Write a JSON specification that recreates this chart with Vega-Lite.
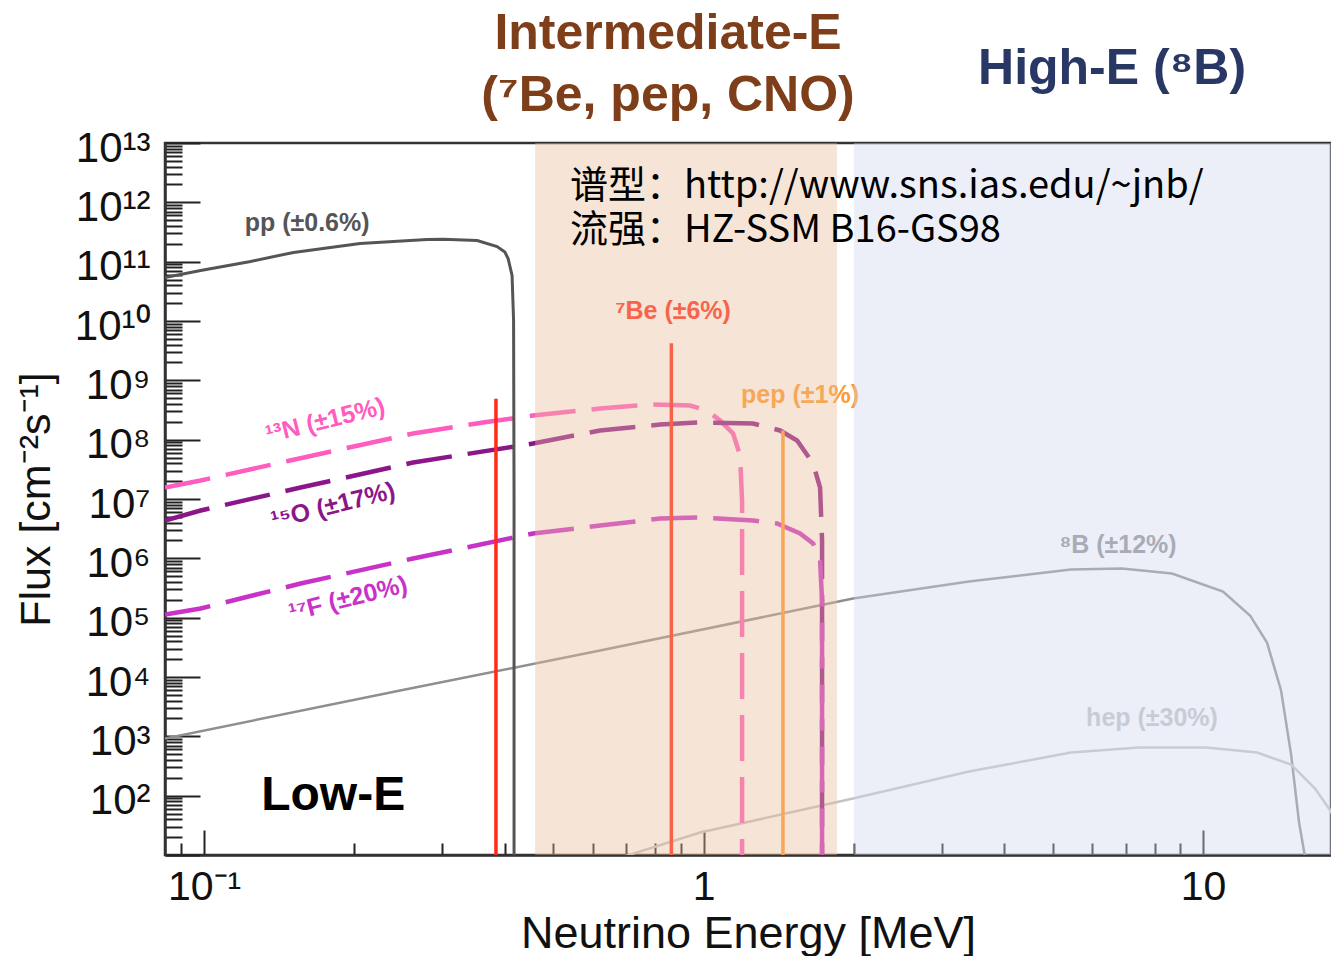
{
  "$schema": "https://vega.github.io/schema/vega-lite/v6.json",
  "width": 1166,
  "height": 712,
  "autosize": "none",
  "padding": {"left": 165, "top": 143, "right": 0, "bottom": 101},
  "background": "white",
  "config": {
    "view": {"stroke": "#333333", "strokeWidth": 2.5},
    "font": "Liberation Sans"
  },
  "datasets": {
    "spectra": [
      {"src": "pp", "i": 0, "E": 0.0835, "F": 5.41e10},
      {"src": "pp", "i": 1, "E": 0.0984, "F": 7.1e10},
      {"src": "pp", "i": 2, "E": 0.1239, "F": 1.01e11},
      {"src": "pp", "i": 3, "E": 0.151, "F": 1.43e11},
      {"src": "pp", "i": 4, "E": 0.2052, "F": 2.02e11},
      {"src": "pp", "i": 5, "E": 0.2795, "F": 2.36e11},
      {"src": "pp", "i": 6, "E": 0.301, "F": 2.39e11},
      {"src": "pp", "i": 7, "E": 0.3521, "F": 2.27e11},
      {"src": "pp", "i": 8, "E": 0.386, "F": 1.8e11},
      {"src": "pp", "i": 9, "E": 0.4001, "F": 1.45e11},
      {"src": "pp", "i": 10, "E": 0.4061, "F": 1.13e11},
      {"src": "pp", "i": 11, "E": 0.4136, "F": 5.85e10},
      {"src": "pp", "i": 12, "E": 0.4165, "F": 1.02e10},
      {"src": "pp", "i": 13, "E": 0.4174, "F": 9.4e6},
      {"src": "pp", "i": 14, "E": 0.4174, "F": 1},

      {"src": "13N", "i": 0, "E": 0.0835, "F": 1.56e7},
      {"src": "13N", "i": 1, "E": 0.0984, "F": 2.05e7},
      {"src": "13N", "i": 2, "E": 0.1487, "F": 4.46e7},
      {"src": "13N", "i": 3, "E": 0.2621, "F": 1.27e8},
      {"src": "13N", "i": 4, "E": 0.3619, "F": 1.95e8},
      {"src": "13N", "i": 5, "E": 0.4557, "F": 2.55e8},
      {"src": "13N", "i": 6, "E": 0.6206, "F": 3.35e8},
      {"src": "13N", "i": 7, "E": 0.7813, "F": 3.92e8},
      {"src": "13N", "i": 8, "E": 0.9397, "F": 3.77e8},
      {"src": "13N", "i": 9, "E": 1.0162, "F": 3.1e8},
      {"src": "13N", "i": 10, "E": 1.079, "F": 2.1e8},
      {"src": "13N", "i": 11, "E": 1.1458, "F": 1.27e8},
      {"src": "13N", "i": 12, "E": 1.1833, "F": 5.41e7},
      {"src": "13N", "i": 13, "E": 1.1942, "F": 9.44e6},
      {"src": "13N", "i": 14, "E": 1.1942, "F": 1},

      {"src": "15O", "i": 0, "E": 0.0835, "F": 4.34e6},
      {"src": "15O", "i": 1, "E": 0.0984, "F": 6.39e6},
      {"src": "15O", "i": 2, "E": 0.156, "F": 1.56e7},
      {"src": "15O", "i": 3, "E": 0.2621, "F": 4.12e7},
      {"src": "15O", "i": 4, "E": 0.4557, "F": 8.61e7},
      {"src": "15O", "i": 5, "E": 0.6206, "F": 1.43e8},
      {"src": "15O", "i": 6, "E": 0.8183, "F": 1.8e8},
      {"src": "15O", "i": 7, "E": 0.984, "F": 1.95e8},
      {"src": "15O", "i": 8, "E": 1.2563, "F": 1.87e8},
      {"src": "15O", "i": 9, "E": 1.4226, "F": 1.43e8},
      {"src": "15O", "i": 10, "E": 1.539, "F": 9.68e7},
      {"src": "15O", "i": 11, "E": 1.6568, "F": 3.96e7},
      {"src": "15O", "i": 12, "E": 1.711, "F": 1.56e7},
      {"src": "15O", "i": 13, "E": 1.7268, "F": 2.0e6},
      {"src": "15O", "i": 14, "E": 1.7268, "F": 1},

      {"src": "17F", "i": 0, "E": 0.0835, "F": 1.13e5},
      {"src": "17F", "i": 1, "E": 0.0984, "F": 1.43e5},
      {"src": "17F", "i": 2, "E": 0.156, "F": 3.76e5},
      {"src": "17F", "i": 3, "E": 0.2621, "F": 9.93e5},
      {"src": "17F", "i": 4, "E": 0.4557, "F": 2.62e6},
      {"src": "17F", "i": 5, "E": 0.6206, "F": 3.57e6},
      {"src": "17F", "i": 6, "E": 0.8183, "F": 4.69e6},
      {"src": "17F", "i": 7, "E": 0.984, "F": 4.88e6},
      {"src": "17F", "i": 8, "E": 1.2563, "F": 4.34e6},
      {"src": "17F", "i": 9, "E": 1.4028, "F": 3.86e6},
      {"src": "17F", "i": 10, "E": 1.5604, "F": 2.62e6},
      {"src": "17F", "i": 11, "E": 1.6568, "F": 1.78e6},
      {"src": "17F", "i": 12, "E": 1.711, "F": 9.19e5},
      {"src": "17F", "i": 13, "E": 1.7268, "F": 1.95e5},
      {"src": "17F", "i": 14, "E": 1.7268, "F": 1},

      {"src": "8B", "i": 0, "E": 0.0835, "F": 919},
      {"src": "8B", "i": 1, "E": 0.2469, "F": 5920},
      {"src": "8B", "i": 2, "E": 0.6206, "F": 27900},
      {"src": "8B", "i": 3, "E": 1.9922, "F": 2.1e5},
      {"src": "8B", "i": 4, "E": 3.4, "F": 4.06e5},
      {"src": "8B", "i": 5, "E": 5.44, "F": 6.47e5},
      {"src": "8B", "i": 6, "E": 6.884, "F": 6.73e5},
      {"src": "8B", "i": 7, "E": 8.667, "F": 5.55e5},
      {"src": "8B", "i": 8, "E": 10.965, "F": 2.75e5},
      {"src": "8B", "i": 9, "E": 12.42, "F": 1.09e5},
      {"src": "8B", "i": 10, "E": 13.43, "F": 38100},
      {"src": "8B", "i": 11, "E": 14.33, "F": 5920},
      {"src": "8B", "i": 12, "E": 15.01, "F": 493},
      {"src": "8B", "i": 13, "E": 15.57, "F": 35.2},
      {"src": "8B", "i": 14, "E": 16.0, "F": 9.4},
      {"src": "8B", "i": 15, "E": 16.2, "F": 1},

      {"src": "hep", "i": 0, "E": 0.566, "F": 5.5},
      {"src": "hep", "i": 1, "E": 0.984, "F": 23.9},
      {"src": "hep", "i": 2, "E": 1.9922, "F": 89.3},
      {"src": "hep", "i": 3, "E": 3.4, "F": 255},
      {"src": "hep", "i": 4, "E": 5.44, "F": 532},
      {"src": "hep", "i": 5, "E": 7.446, "F": 646},
      {"src": "hep", "i": 6, "E": 10.14, "F": 646},
      {"src": "hep", "i": 7, "E": 12.83, "F": 532},
      {"src": "hep", "i": 8, "E": 15.01, "F": 334},
      {"src": "hep", "i": 9, "E": 16.76, "F": 132},
      {"src": "hep", "i": 10, "E": 18.04, "F": 54},
      {"src": "hep", "i": 11, "E": 19.25, "F": 17.5}
    ],
    "mono": [
      {"src": "7Be", "E": 0.384, "F": 4.9e8},
      {"src": "7Be", "E": 0.862, "F": 4.2e9},
      {"src": "pep", "E": 1.442, "F": 1.43e8}
    ],
    "labels": [
      {"src": "pp", "text": "pp (±0.6%)", "E": 0.1608, "F": 4.57e11},
      {"src": "7Be", "text": "⁷Be (±6%)", "E": 0.8688, "F": 1.49e10},
      {"src": "pep", "text": "pep (±1%)", "E": 1.56, "F": 5.77e8},
      {"src": "8B", "text": "⁸B (±12%)", "E": 6.758, "F": 1.71e6},
      {"src": "hep", "text": "hep (±30%)", "E": 7.905, "F": 2070},
      {"src": "13N", "text": "¹³N (±15%)", "E": 0.1748, "F": 2.1e8},
      {"src": "15O", "text": "¹⁵O (±17%)", "E": 0.1813, "F": 7.76e6},
      {"src": "17F", "text": "¹⁷F (±20%)", "E": 0.1942, "F": 2.1e5}
    ],
    "bands": [
      {"region": "intermediate", "E0": 0.46, "E1": 1.85},
      {"region": "high", "E0": 2.0, "E1": 20}
    ],
    "notes": [
      {"kind": "low", "text": "Low-E", "E": 0.1813, "F": 100},
      {"kind": "source", "text": "谱型：http://www.sns.ias.edu/~jnb/\n流强：HZ-SSM B16-GS98", "E": 0.54, "F": 1.78e12},
      {"kind": "mid", "text": "Intermediate-E", "E": 0.849, "F": 7.0e14},
      {"kind": "mid", "text": "(⁷Be, pep, CNO)", "E": 0.849, "F": 6.3e13},
      {"kind": "high", "text": "High-E (⁸B)", "E": 6.574, "F": 1.8e14}
    ]
  },
  "layer": [
    {
      "data": {"name": "spectra"},
      "transform": [{"filter": "datum.src === '8B' || datum.src === 'hep'"}],
      "mark": {"type": "line", "strokeWidth": 2.5, "clip": true},
      "encoding": {
        "x": {
          "field": "E", "type": "quantitative",
          "scale": {"type": "log", "domain": [0.0835, 18.04], "nice": false},
          "axis": {
            "title": "Neutrino Energy [MeV]",
            "titleFont": "Liberation Sans", "titleFontSize": 45, "titleFontWeight": "normal",
            "titleColor": "#111111", "titlePadding": -9,
            "grid": false,
            "tickCount": 40,
            "labelExpr": "abs(datum.value - 0.1) < 1e-9 ? '10⁻¹' : abs(datum.value - 1) < 1e-9 ? '1' : abs(datum.value - 10) < 1e-9 ? '10' : ''",
            "labelFont": "Liberation Sans", "labelFontSize": 41, "labelColor": "#111111",
            "labelOverlap": false, "labelFlush": false, "labelPadding": 37,
            "tickSize": {"condition": {"test": "abs(log(datum.value)/LN10 - round(log(datum.value)/LN10)) < 1e-6", "value": -25}, "value": -12},
            "tickColor": "#222222", "tickWidth": 2,
            "domainColor": "#333333", "domainWidth": 2.5
          }
        },
        "y": {
          "field": "F", "type": "quantitative",
          "scale": {"type": "log", "domain": [10, 1e13], "nice": false},
          "axis": {
            "title": "Flux [cm⁻²s⁻¹]",
            "titleFont": "Liberation Sans", "titleFontSize": 43, "titleFontWeight": "normal",
            "titleColor": "#111111", "titlePadding": 16,
            "grid": false,
            "tickCount": 100,
            "labelExpr": "datum.value >= 99 && abs(log(datum.value)/LN10 - round(log(datum.value)/LN10)) < 1e-6 ? '10' + (round(log(datum.value)/LN10) >= 10 ? '¹' : '') + ['⁰','¹','²','³','⁴','⁵','⁶','⁷','⁸','⁹'][round(log(datum.value)/LN10) % 10] : ''",
            "labelFont": "Liberation Sans", "labelFontSize": 42, "labelColor": "#111111",
            "labelOverlap": false, "labelFlush": false, "labelPadding": 50, "labelOffset": 5,
            "labelBaseline": "middle",
            "tickSize": {"condition": {"test": "abs(log(datum.value)/LN10 - round(log(datum.value)/LN10)) < 1e-6", "value": -35}, "value": -17},
            "tickColor": "#222222", "tickWidth": 2,
            "domainColor": "#333333", "domainWidth": 2.5
          }
        },
        "color": {
          "field": "src", "type": "nominal", "legend": null,
          "scale": {
            "domain": ["pp", "13N", "15O", "17F", "7Be", "pep", "8B", "hep"],
            "range": ["#555555", "#ff5cc0", "#8a168a", "#c832c8", "#ff2a1a", "#ff9a2e", "#8f8f8f", "#c4c4c4"]
          }
        },
        "detail": {"field": "src"},
        "order": {"field": "i", "type": "quantitative"}
      }
    },
    {
      "data": {"name": "spectra"},
      "transform": [{"filter": "datum.src === '13N' || datum.src === '15O' || datum.src === '17F'"}],
      "mark": {"type": "line", "strokeWidth": 4.5, "strokeDash": [46, 16], "clip": true},
      "encoding": {
        "x": {"field": "E", "type": "quantitative"},
        "y": {"field": "F", "type": "quantitative"},
        "color": {"field": "src", "type": "nominal", "legend": null},
        "detail": {"field": "src"},
        "order": {"field": "i", "type": "quantitative"}
      }
    },
    {
      "data": {"name": "spectra"},
      "transform": [{"filter": "datum.src === 'pp'"}],
      "mark": {"type": "line", "strokeWidth": 3, "clip": true},
      "encoding": {
        "x": {"field": "E", "type": "quantitative"},
        "y": {"field": "F", "type": "quantitative"},
        "color": {"field": "src", "type": "nominal", "legend": null},
        "order": {"field": "i", "type": "quantitative"}
      }
    },
    {
      "data": {"name": "mono"},
      "mark": {"type": "rule", "strokeWidth": 3.5, "clip": true},
      "encoding": {
        "x": {"field": "E", "type": "quantitative"},
        "y": {"field": "F", "type": "quantitative"},
        "y2": {"datum": 10},
        "color": {"field": "src", "type": "nominal", "legend": null}
      }
    },
    {
      "data": {"name": "labels"},
      "transform": [{"filter": "indexof(['pp', '7Be', 'pep', '8B', 'hep'], datum.src) >= 0"}],
      "mark": {"type": "text", "font": "Liberation Sans", "fontWeight": "bold", "fontSize": 25, "align": "center", "baseline": "middle"},
      "encoding": {
        "x": {"field": "E", "type": "quantitative"},
        "y": {"field": "F", "type": "quantitative"},
        "text": {"field": "text"},
        "color": {"field": "src", "type": "nominal", "legend": null}
      }
    },
    {
      "data": {"name": "labels"},
      "transform": [{"filter": "indexof(['13N', '15O', '17F'], datum.src) >= 0"}],
      "mark": {"type": "text", "font": "Liberation Sans", "fontWeight": "bold", "fontSize": 25, "align": "center", "baseline": "middle", "angle": 346},
      "encoding": {
        "x": {"field": "E", "type": "quantitative"},
        "y": {"field": "F", "type": "quantitative"},
        "text": {"field": "text"},
        "color": {"field": "src", "type": "nominal", "legend": null}
      }
    },
    {
      "data": {"name": "notes"},
      "transform": [{"filter": "datum.kind === 'low'"}],
      "mark": {"type": "text", "font": "Liberation Sans", "fontWeight": "bold", "fontSize": 48, "align": "center", "baseline": "middle", "color": "#000000"},
      "encoding": {
        "x": {"field": "E", "type": "quantitative"},
        "y": {"field": "F", "type": "quantitative"},
        "text": {"field": "text"}
      }
    },
    {
      "data": {"name": "bands"},
      "transform": [{"filter": "datum.region === 'intermediate'"}],
      "mark": {"type": "rect", "color": "#e8bb98", "opacity": 0.4, "clip": true},
      "encoding": {
        "x": {"field": "E0", "type": "quantitative"},
        "x2": {"field": "E1"},
        "y": {"datum": 1e13},
        "y2": {"datum": 10}
      }
    },
    {
      "data": {"name": "bands"},
      "transform": [{"filter": "datum.region === 'high'"}],
      "mark": {"type": "rect", "color": "#d0d7ee", "opacity": 0.4, "clip": true},
      "encoding": {
        "x": {"field": "E0", "type": "quantitative"},
        "x2": {"field": "E1"},
        "y": {"datum": 1e13},
        "y2": {"datum": 10}
      }
    },
    {
      "data": {"name": "notes"},
      "transform": [{"filter": "datum.kind === 'source'"}],
      "mark": {"type": "text", "font": "Noto Sans CJK SC", "fontSize": 38, "align": "left", "baseline": "middle", "lineBreak": "\n", "lineHeight": 44, "color": "#000000"},
      "encoding": {
        "x": {"field": "E", "type": "quantitative"},
        "y": {"field": "F", "type": "quantitative"},
        "text": {"field": "text"}
      }
    },
    {
      "data": {"name": "notes"},
      "transform": [{"filter": "datum.kind === 'mid'"}],
      "mark": {"type": "text", "font": "Liberation Sans", "fontWeight": "bold", "fontSize": 50, "align": "center", "baseline": "middle", "color": "#7d3e19"},
      "encoding": {
        "x": {"field": "E", "type": "quantitative"},
        "y": {"field": "F", "type": "quantitative"},
        "text": {"field": "text"}
      }
    },
    {
      "data": {"name": "notes"},
      "transform": [{"filter": "datum.kind === 'high'"}],
      "mark": {"type": "text", "font": "Liberation Sans", "fontWeight": "bold", "fontSize": 50, "align": "center", "baseline": "middle", "color": "#283764"},
      "encoding": {
        "x": {"field": "E", "type": "quantitative"},
        "y": {"field": "F", "type": "quantitative"},
        "text": {"field": "text"}
      }
    }
  ]
}
